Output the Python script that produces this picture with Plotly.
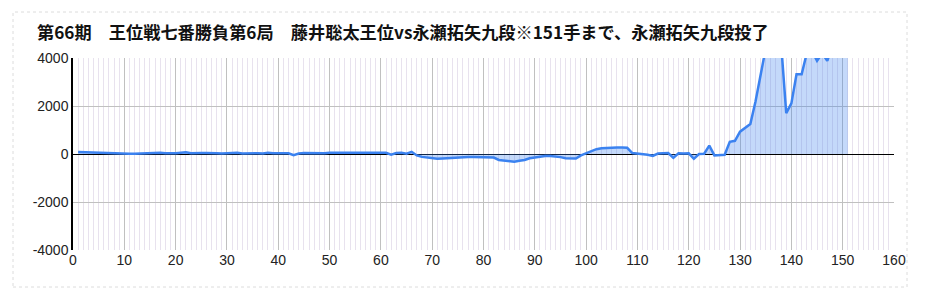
import plotly.graph_objects as go

moves = list(range(1, 152))
evals = [
    # 1-10
    80, 70, 60, 50, 50, 40, 40, 30, 20, 10,
    # 11-20
    10, 10, 20, 10, 20, 30, 50, 30, 20, 30,
    # 21-30
    50, 70, 30, 20, 40, 40, 20, 30, 20, 40,
    # 31-40
    30, 50, 20, 30, 10, 30, 20, 50, 30, 30,
    # 41-50
    20, 30, -50, 20, 40, 30, 30, 40, 30, 50,
    # 51-60
    50, 50, 60, 60, 40, 30, 50, 50, 60, 50,
    # 61-70
    50, -30, 40, 50, 10, 90, -60, -120, -150, -180,
    # 71-80
    -200, -190, -170, -150, -140, -130, -120, -120, -130, -120,
    # 81-90
    -120, -150, -250, -280, -300, -320, -280, -250, -180, -140,
    # 91-100
    -100, -80, -80, -100, -130, -180, -200, -190, -60, 30,
    # 101-110
    120, 200, 240, 260, 270, 270, 270, 260, 40, 20,
    # 111-120
    0, -30, -80, 20, 30, 40, -160, 30, 20, 30,
    # 121-130
    -200, 0, 10, 350, -60, -40, -30, 510, 550, 930,
    # 131-140
    1100, 1250, 2180, 3200, 4400, 4700, 4800, 4600, 1700, 2110,
    # 141-151
    3320, 3320, 4200, 4300, 3880, 4200, 3880, 4500, 4800, 5000, 5200,
]

x_ticks = list(range(0, 161, 10))
y_ticks = [-4000, -2000, 0, 2000, 4000]

title_text = "第66期　王位戦七番勝負第6局　藤井聡太王位vs永瀬拓矢九段※151手まで、永瀬拓矢九段投了"

fig = go.Figure()
fig.add_trace(go.Scatter(
    x=moves, y=evals, mode="lines",
    line=dict(color="#3b82f0", width=2.5),
    fill="tozeroy", fillcolor="rgba(59,130,240,0.30)",
    hoverinfo="x+y", showlegend=False,
))

W, H = 925, 298
L, R, T, B = 73, 31, 58, 48
pw, ph = W - L - R, H - T - B

def px(xp):
    return (xp - L) / pw

def py(yp):
    return (H - B - yp) / ph

fig.update_layout(
    width=W, height=H,
    margin=dict(l=L, r=R, t=T, b=B),
    paper_bgcolor="white", plot_bgcolor="white",
    font=dict(family="Liberation Sans, Arial, sans-serif", size=14, color="#222"),
    title=dict(
        text=title_text, x=37 / W, xanchor="left", xref="container",
        y=1 - 33 / H, yanchor="middle", yref="container",
        font=dict(family="Noto Sans CJK JP", size=17.2, color="#111", weight="bold"),
    ),
    xaxis=dict(
        range=[0, 160], tickvals=x_ticks, ticktext=[str(v) for v in x_ticks],
        showgrid=True, gridcolor="#c0c0c0", gridwidth=1,
        minor=dict(dtick=1, tick0=0, showgrid=True, gridcolor="#e8e2ee", gridwidth=1),
        zeroline=False, showline=False, ticks="", fixedrange=True,
        tickfont=dict(size=14, color="#222"),
    ),
    yaxis=dict(
        range=[-4000, 4000], tickvals=y_ticks, ticktext=[str(v) for v in y_ticks],
        showgrid=True, gridcolor="#c0c0c0", gridwidth=1,
        zeroline=True, zerolinecolor="#000", zerolinewidth=1.2,
        showline=True, linecolor="#000", linewidth=1.5, ticks="",
        tickfont=dict(size=14, color="#222"), fixedrange=True,
    ),
    shapes=[
        dict(type="rect", xref="paper", yref="paper",
             x0=px(13), x1=px(907), y0=py(287), y1=py(12),
             line=dict(color="#dcdcdc", width=1, dash="dot"), layer="below"),
    ],
)

fig.write_html("out.html")
